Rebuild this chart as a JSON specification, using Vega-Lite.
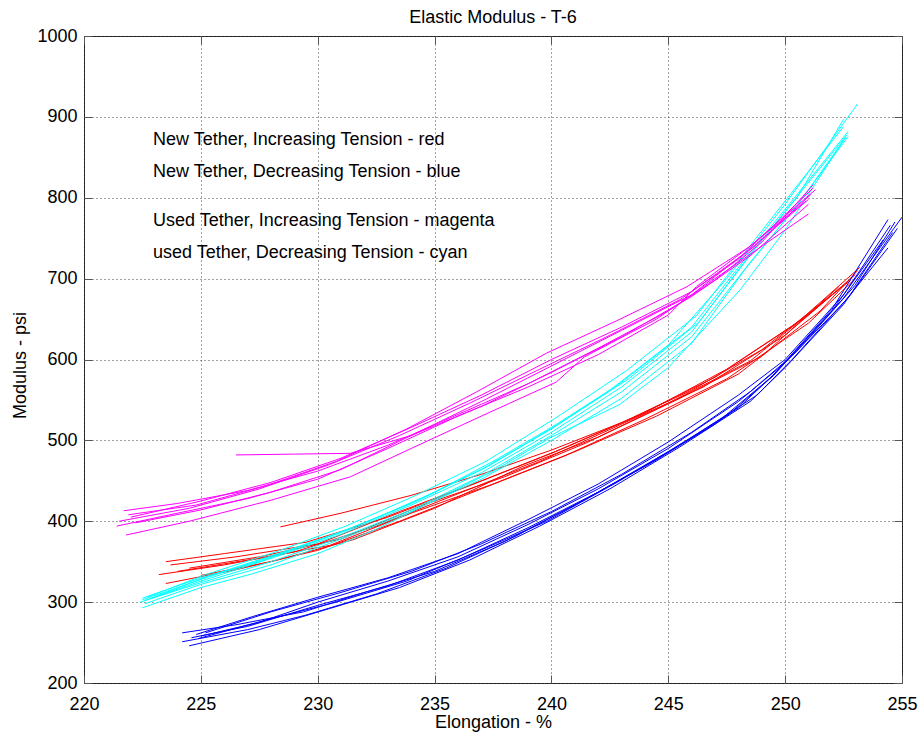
{
  "$schema": "https://vega.github.io/schema/vega-lite/v6.json",
  "width": 818,
  "height": 647,
  "autosize": {"type": "none"},
  "padding": {"left": 84, "top": 36, "right": 19, "bottom": 53},
  "background": "#ffffff",
  "title": {"text": "Elastic Modulus - T-6", "font": "Liberation Sans", "fontSize": 18, "fontWeight": "normal", "color": "#000", "anchor": "middle", "offset": 0},
  "config": {
    "view": {"stroke": "#222", "strokeWidth": 1},
    "axis": {
      "labelFont": "Liberation Sans", "labelFontSize": 18, "labelColor": "#000",
      "titleFont": "Liberation Sans", "titleFontSize": 18, "titleFontWeight": "normal", "titleColor": "#000",
      "grid": true, "gridColor": "#444", "gridDash": [1, 3], "gridOpacity": 1, "gridWidth": 1,
      "domain": false, "tickColor": "#555", "tickSize": -8, "tickWidth": 1,
      "labelOverlap": false, "labelFlush": false, "labelBound": false, "format": "d"
    }
  },
  "layer": [
    {
      "data": {"values": [
        {"series":"R1","group":"new_inc","x":223.5,"y":350},{"series":"R1","group":"new_inc","x":226,"y":360},{"series":"R1","group":"new_inc","x":229.5,"y":374},{"series":"R1","group":"new_inc","x":233,"y":405},{"series":"R1","group":"new_inc","x":236.5,"y":444},{"series":"R1","group":"new_inc","x":240,"y":484},{"series":"R1","group":"new_inc","x":243.5,"y":528},{"series":"R1","group":"new_inc","x":247,"y":578},{"series":"R1","group":"new_inc","x":250.5,"y":645},{"series":"R1","group":"new_inc","x":253.2,"y":714},
        {"series":"R2","group":"new_inc","x":223.7,"y":346},{"series":"R2","group":"new_inc","x":226.5,"y":356},{"series":"R2","group":"new_inc","x":230,"y":372},{"series":"R2","group":"new_inc","x":233.5,"y":412},{"series":"R2","group":"new_inc","x":237,"y":450},{"series":"R2","group":"new_inc","x":240.5,"y":490},{"series":"R2","group":"new_inc","x":244,"y":534},{"series":"R2","group":"new_inc","x":247.5,"y":588},{"series":"R2","group":"new_inc","x":251,"y":655},{"series":"R2","group":"new_inc","x":253,"y":705},
        {"series":"R3","group":"new_inc","x":223.2,"y":334},{"series":"R3","group":"new_inc","x":226,"y":346},{"series":"R3","group":"new_inc","x":229,"y":362},{"series":"R3","group":"new_inc","x":232.5,"y":394},{"series":"R3","group":"new_inc","x":236,"y":434},{"series":"R3","group":"new_inc","x":239.5,"y":474},{"series":"R3","group":"new_inc","x":243,"y":520},{"series":"R3","group":"new_inc","x":246.5,"y":566},{"series":"R3","group":"new_inc","x":250,"y":630},{"series":"R3","group":"new_inc","x":252.5,"y":692},
        {"series":"R4","group":"new_inc","x":223.5,"y":323},{"series":"R4","group":"new_inc","x":226.5,"y":340},{"series":"R4","group":"new_inc","x":230,"y":364},{"series":"R4","group":"new_inc","x":233.5,"y":400},{"series":"R4","group":"new_inc","x":237,"y":440},{"series":"R4","group":"new_inc","x":240.5,"y":480},{"series":"R4","group":"new_inc","x":244,"y":526},{"series":"R4","group":"new_inc","x":247.5,"y":576},{"series":"R4","group":"new_inc","x":251,"y":645},{"series":"R4","group":"new_inc","x":253,"y":700},
        {"series":"R5","group":"new_inc","x":228.4,"y":393},{"series":"R5","group":"new_inc","x":231,"y":410},{"series":"R5","group":"new_inc","x":234,"y":432},{"series":"R5","group":"new_inc","x":237,"y":458},{"series":"R5","group":"new_inc","x":240,"y":488},{"series":"R5","group":"new_inc","x":243,"y":522},{"series":"R5","group":"new_inc","x":246,"y":562},{"series":"R5","group":"new_inc","x":249,"y":612},{"series":"R5","group":"new_inc","x":252,"y":680},
        {"series":"R6","group":"new_inc","x":224.5,"y":342},{"series":"R6","group":"new_inc","x":227.5,"y":356},{"series":"R6","group":"new_inc","x":231,"y":378},{"series":"R6","group":"new_inc","x":234.5,"y":420},{"series":"R6","group":"new_inc","x":238,"y":455},{"series":"R6","group":"new_inc","x":241.5,"y":497},{"series":"R6","group":"new_inc","x":245,"y":546},{"series":"R6","group":"new_inc","x":248.5,"y":598},{"series":"R6","group":"new_inc","x":251.5,"y":668},{"series":"R6","group":"new_inc","x":252.8,"y":698},
        {"series":"R7","group":"new_inc","x":225,"y":333},{"series":"R7","group":"new_inc","x":228,"y":350},{"series":"R7","group":"new_inc","x":231.5,"y":377},{"series":"R7","group":"new_inc","x":235,"y":416},{"series":"R7","group":"new_inc","x":238.7,"y":467},{"series":"R7","group":"new_inc","x":242,"y":504},{"series":"R7","group":"new_inc","x":245.5,"y":552},{"series":"R7","group":"new_inc","x":249,"y":604},{"series":"R7","group":"new_inc","x":252.3,"y":690},
        {"series":"R8","group":"new_inc","x":224,"y":338},{"series":"R8","group":"new_inc","x":227,"y":352},{"series":"R8","group":"new_inc","x":230.5,"y":370},{"series":"R8","group":"new_inc","x":234,"y":410},{"series":"R8","group":"new_inc","x":237.5,"y":446},{"series":"R8","group":"new_inc","x":241,"y":486},{"series":"R8","group":"new_inc","x":244.5,"y":530},{"series":"R8","group":"new_inc","x":248,"y":582},{"series":"R8","group":"new_inc","x":251.5,"y":660},{"series":"R8","group":"new_inc","x":253.1,"y":710},

        {"series":"B1","group":"new_dec","x":224.2,"y":262},{"series":"B1","group":"new_dec","x":226.5,"y":272},{"series":"B1","group":"new_dec","x":229.4,"y":288},{"series":"B1","group":"new_dec","x":232,"y":312},{"series":"B1","group":"new_dec","x":235,"y":338},{"series":"B1","group":"new_dec","x":238,"y":375},{"series":"B1","group":"new_dec","x":241,"y":420},{"series":"B1","group":"new_dec","x":244,"y":468},{"series":"B1","group":"new_dec","x":247,"y":520},{"series":"B1","group":"new_dec","x":249.4,"y":578},{"series":"B1","group":"new_dec","x":252,"y":662},{"series":"B1","group":"new_dec","x":254.4,"y":773},
        {"series":"B2","group":"new_dec","x":224.2,"y":251},{"series":"B2","group":"new_dec","x":227,"y":266},{"series":"B2","group":"new_dec","x":229.5,"y":284},{"series":"B2","group":"new_dec","x":232.5,"y":310},{"series":"B2","group":"new_dec","x":235.5,"y":342},{"series":"B2","group":"new_dec","x":238.5,"y":382},{"series":"B2","group":"new_dec","x":241.5,"y":428},{"series":"B2","group":"new_dec","x":244.5,"y":476},{"series":"B2","group":"new_dec","x":247.5,"y":530},{"series":"B2","group":"new_dec","x":249.5,"y":580},{"series":"B2","group":"new_dec","x":252.5,"y":676},{"series":"B2","group":"new_dec","x":255,"y":776},
        {"series":"B3","group":"new_dec","x":224.5,"y":246},{"series":"B3","group":"new_dec","x":227.5,"y":266},{"series":"B3","group":"new_dec","x":230.5,"y":292},{"series":"B3","group":"new_dec","x":233.5,"y":318},{"series":"B3","group":"new_dec","x":236.5,"y":352},{"series":"B3","group":"new_dec","x":239.5,"y":394},{"series":"B3","group":"new_dec","x":242.5,"y":440},{"series":"B3","group":"new_dec","x":245.5,"y":492},{"series":"B3","group":"new_dec","x":248.5,"y":548},{"series":"B3","group":"new_dec","x":250,"y":590},{"series":"B3","group":"new_dec","x":252.5,"y":668},{"series":"B3","group":"new_dec","x":254.6,"y":757},
        {"series":"B4","group":"new_dec","x":225,"y":258},{"series":"B4","group":"new_dec","x":227.5,"y":275},{"series":"B4","group":"new_dec","x":230,"y":300},{"series":"B4","group":"new_dec","x":233,"y":326},{"series":"B4","group":"new_dec","x":236,"y":356},{"series":"B4","group":"new_dec","x":239,"y":396},{"series":"B4","group":"new_dec","x":242,"y":440},{"series":"B4","group":"new_dec","x":245,"y":490},{"series":"B4","group":"new_dec","x":248,"y":548},{"series":"B4","group":"new_dec","x":250,"y":596},{"series":"B4","group":"new_dec","x":252.5,"y":670},{"series":"B4","group":"new_dec","x":254.4,"y":738},
        {"series":"B5","group":"new_dec","x":224.6,"y":256},{"series":"B5","group":"new_dec","x":227,"y":270},{"series":"B5","group":"new_dec","x":230,"y":296},{"series":"B5","group":"new_dec","x":233,"y":320},{"series":"B5","group":"new_dec","x":236,"y":352},{"series":"B5","group":"new_dec","x":239,"y":392},{"series":"B5","group":"new_dec","x":242,"y":436},{"series":"B5","group":"new_dec","x":245,"y":486},{"series":"B5","group":"new_dec","x":248,"y":540},{"series":"B5","group":"new_dec","x":249.6,"y":584},{"series":"B5","group":"new_dec","x":252,"y":660},{"series":"B5","group":"new_dec","x":254.2,"y":748},
        {"series":"B6","group":"new_dec","x":224.8,"y":260},{"series":"B6","group":"new_dec","x":227.2,"y":282},{"series":"B6","group":"new_dec","x":230,"y":306},{"series":"B6","group":"new_dec","x":233,"y":330},{"series":"B6","group":"new_dec","x":236,"y":360},{"series":"B6","group":"new_dec","x":239,"y":402},{"series":"B6","group":"new_dec","x":242,"y":446},{"series":"B6","group":"new_dec","x":245,"y":498},{"series":"B6","group":"new_dec","x":248,"y":556},{"series":"B6","group":"new_dec","x":250,"y":600},{"series":"B6","group":"new_dec","x":252.5,"y":680},{"series":"B6","group":"new_dec","x":254.5,"y":766},
        {"series":"B7","group":"new_dec","x":225.2,"y":262},{"series":"B7","group":"new_dec","x":228,"y":288},{"series":"B7","group":"new_dec","x":231,"y":312},{"series":"B7","group":"new_dec","x":234,"y":338},{"series":"B7","group":"new_dec","x":237,"y":372},{"series":"B7","group":"new_dec","x":240,"y":412},{"series":"B7","group":"new_dec","x":243,"y":458},{"series":"B7","group":"new_dec","x":246,"y":510},{"series":"B7","group":"new_dec","x":248.5,"y":560},{"series":"B7","group":"new_dec","x":250.5,"y":610},{"series":"B7","group":"new_dec","x":253,"y":692},{"series":"B7","group":"new_dec","x":254.7,"y":770},
        {"series":"B8","group":"new_dec","x":224.9,"y":255},{"series":"B8","group":"new_dec","x":227.8,"y":278},{"series":"B8","group":"new_dec","x":230.8,"y":300},{"series":"B8","group":"new_dec","x":233.8,"y":326},{"series":"B8","group":"new_dec","x":236.8,"y":362},{"series":"B8","group":"new_dec","x":239.8,"y":400},{"series":"B8","group":"new_dec","x":242.8,"y":448},{"series":"B8","group":"new_dec","x":245.8,"y":500},{"series":"B8","group":"new_dec","x":248.8,"y":556},{"series":"B8","group":"new_dec","x":250.3,"y":600},{"series":"B8","group":"new_dec","x":252.8,"y":680},{"series":"B8","group":"new_dec","x":254.8,"y":762},

        {"series":"C1","group":"used_dec","x":222.5,"y":305},{"series":"C1","group":"used_dec","x":225,"y":330},{"series":"C1","group":"used_dec","x":227.5,"y":350},{"series":"C1","group":"used_dec","x":230,"y":376},{"series":"C1","group":"used_dec","x":232.5,"y":404},{"series":"C1","group":"used_dec","x":235,"y":436},{"series":"C1","group":"used_dec","x":237.5,"y":474},{"series":"C1","group":"used_dec","x":240,"y":516},{"series":"C1","group":"used_dec","x":242.5,"y":562},{"series":"C1","group":"used_dec","x":245,"y":618},{"series":"C1","group":"used_dec","x":247.5,"y":700},{"series":"C1","group":"used_dec","x":250,"y":792},{"series":"C1","group":"used_dec","x":253.1,"y":916},
        {"series":"C2","group":"used_dec","x":222.5,"y":293},{"series":"C2","group":"used_dec","x":225,"y":318},{"series":"C2","group":"used_dec","x":227.2,"y":335},{"series":"C2","group":"used_dec","x":230,"y":360},{"series":"C2","group":"used_dec","x":232.5,"y":390},{"series":"C2","group":"used_dec","x":235,"y":426},{"series":"C2","group":"used_dec","x":237.5,"y":462},{"series":"C2","group":"used_dec","x":240,"y":504},{"series":"C2","group":"used_dec","x":242.9,"y":544},{"series":"C2","group":"used_dec","x":245,"y":590},{"series":"C2","group":"used_dec","x":248.07,"y":686},{"series":"C2","group":"used_dec","x":250,"y":760},{"series":"C2","group":"used_dec","x":252.5,"y":871},
        {"series":"C3","group":"used_dec","x":222.6,"y":302},{"series":"C3","group":"used_dec","x":225,"y":326},{"series":"C3","group":"used_dec","x":228,"y":354},{"series":"C3","group":"used_dec","x":231,"y":384},{"series":"C3","group":"used_dec","x":234,"y":420},{"series":"C3","group":"used_dec","x":237,"y":460},{"series":"C3","group":"used_dec","x":240,"y":510},{"series":"C3","group":"used_dec","x":243,"y":566},{"series":"C3","group":"used_dec","x":246,"y":634},{"series":"C3","group":"used_dec","x":248.5,"y":730},{"series":"C3","group":"used_dec","x":250.5,"y":800},{"series":"C3","group":"used_dec","x":252.5,"y":897},
        {"series":"C4","group":"used_dec","x":222.8,"y":304},{"series":"C4","group":"used_dec","x":225.3,"y":332},{"series":"C4","group":"used_dec","x":228.3,"y":360},{"series":"C4","group":"used_dec","x":231.3,"y":390},{"series":"C4","group":"used_dec","x":234.3,"y":426},{"series":"C4","group":"used_dec","x":237.3,"y":468},{"series":"C4","group":"used_dec","x":240.3,"y":520},{"series":"C4","group":"used_dec","x":243.3,"y":576},{"series":"C4","group":"used_dec","x":246.3,"y":646},{"series":"C4","group":"used_dec","x":248.8,"y":740},{"series":"C4","group":"used_dec","x":252.65,"y":878},
        {"series":"C5","group":"used_dec","x":222.4,"y":300},{"series":"C5","group":"used_dec","x":225,"y":324},{"series":"C5","group":"used_dec","x":228,"y":350},{"series":"C5","group":"used_dec","x":231,"y":380},{"series":"C5","group":"used_dec","x":234,"y":414},{"series":"C5","group":"used_dec","x":237,"y":456},{"series":"C5","group":"used_dec","x":240,"y":506},{"series":"C5","group":"used_dec","x":243,"y":560},{"series":"C5","group":"used_dec","x":246,"y":628},{"series":"C5","group":"used_dec","x":248.5,"y":720},{"series":"C5","group":"used_dec","x":250.5,"y":790},{"series":"C5","group":"used_dec","x":252.7,"y":876},
        {"series":"C6","group":"used_dec","x":222.7,"y":306},{"series":"C6","group":"used_dec","x":225.2,"y":334},{"series":"C6","group":"used_dec","x":228.2,"y":362},{"series":"C6","group":"used_dec","x":231.2,"y":394},{"series":"C6","group":"used_dec","x":234.2,"y":432},{"series":"C6","group":"used_dec","x":237.2,"y":474},{"series":"C6","group":"used_dec","x":240.2,"y":528},{"series":"C6","group":"used_dec","x":243.2,"y":586},{"series":"C6","group":"used_dec","x":246.2,"y":654},{"series":"C6","group":"used_dec","x":248.7,"y":748},{"series":"C6","group":"used_dec","x":252.5,"y":888},
        {"series":"C7","group":"used_dec","x":222.6,"y":298},{"series":"C7","group":"used_dec","x":225,"y":322},{"series":"C7","group":"used_dec","x":228,"y":346},{"series":"C7","group":"used_dec","x":231,"y":378},{"series":"C7","group":"used_dec","x":234,"y":412},{"series":"C7","group":"used_dec","x":237,"y":452},{"series":"C7","group":"used_dec","x":240,"y":500},{"series":"C7","group":"used_dec","x":243,"y":552},{"series":"C7","group":"used_dec","x":246,"y":620},{"series":"C7","group":"used_dec","x":248.3,"y":712},{"series":"C7","group":"used_dec","x":250.5,"y":790},{"series":"C7","group":"used_dec","x":252.6,"y":875},
        {"series":"C8","group":"used_dec","x":222.5,"y":303},{"series":"C8","group":"used_dec","x":225,"y":328},{"series":"C8","group":"used_dec","x":228,"y":356},{"series":"C8","group":"used_dec","x":231,"y":386},{"series":"C8","group":"used_dec","x":234,"y":422},{"series":"C8","group":"used_dec","x":237,"y":464},{"series":"C8","group":"used_dec","x":240,"y":514},{"series":"C8","group":"used_dec","x":243,"y":572},{"series":"C8","group":"used_dec","x":246,"y":640},{"series":"C8","group":"used_dec","x":248.6,"y":736},{"series":"C8","group":"used_dec","x":252.7,"y":882},

        {"series":"M1","group":"used_inc","x":221.7,"y":413},{"series":"M1","group":"used_inc","x":224,"y":422},{"series":"M1","group":"used_inc","x":227,"y":438},{"series":"M1","group":"used_inc","x":230,"y":462},{"series":"M1","group":"used_inc","x":233,"y":494},{"series":"M1","group":"used_inc","x":236,"y":532},{"series":"M1","group":"used_inc","x":239,"y":570},{"series":"M1","group":"used_inc","x":242,"y":614},{"series":"M1","group":"used_inc","x":245,"y":660},{"series":"M1","group":"used_inc","x":247,"y":698},{"series":"M1","group":"used_inc","x":249,"y":745},{"series":"M1","group":"used_inc","x":251.2,"y":816},
        {"series":"M2","group":"used_inc","x":221.4,"y":394},{"series":"M2","group":"used_inc","x":224,"y":410},{"series":"M2","group":"used_inc","x":227,"y":428},{"series":"M2","group":"used_inc","x":230,"y":452},{"series":"M2","group":"used_inc","x":233,"y":490},{"series":"M2","group":"used_inc","x":236,"y":530},{"series":"M2","group":"used_inc","x":239,"y":566},{"series":"M2","group":"used_inc","x":242,"y":606},{"series":"M2","group":"used_inc","x":245,"y":655},{"series":"M2","group":"used_inc","x":246.2,"y":690},{"series":"M2","group":"used_inc","x":248.5,"y":740},{"series":"M2","group":"used_inc","x":251.3,"y":810},
        {"series":"M3","group":"used_inc","x":221.8,"y":383},{"series":"M3","group":"used_inc","x":224.5,"y":400},{"series":"M3","group":"used_inc","x":228,"y":426},{"series":"M3","group":"used_inc","x":231.4,"y":455},{"series":"M3","group":"used_inc","x":234,"y":490},{"series":"M3","group":"used_inc","x":237,"y":530},{"series":"M3","group":"used_inc","x":240.2,"y":572},{"series":"M3","group":"used_inc","x":241.4,"y":603},{"series":"M3","group":"used_inc","x":244.5,"y":650},{"series":"M3","group":"used_inc","x":247.5,"y":710},{"series":"M3","group":"used_inc","x":251,"y":780},
        {"series":"M4","group":"used_inc","x":226.5,"y":482},{"series":"M4","group":"used_inc","x":229,"y":483},{"series":"M4","group":"used_inc","x":231.4,"y":484},{"series":"M4","group":"used_inc","x":234,"y":506},{"series":"M4","group":"used_inc","x":237,"y":542},{"series":"M4","group":"used_inc","x":240,"y":584},{"series":"M4","group":"used_inc","x":243,"y":628},{"series":"M4","group":"used_inc","x":246,"y":678},{"series":"M4","group":"used_inc","x":248.5,"y":728},{"series":"M4","group":"used_inc","x":251,"y":792},
        {"series":"M5","group":"used_inc","x":221.5,"y":400},{"series":"M5","group":"used_inc","x":224.5,"y":416},{"series":"M5","group":"used_inc","x":227.5,"y":440},{"series":"M5","group":"used_inc","x":230.5,"y":470},{"series":"M5","group":"used_inc","x":233.5,"y":506},{"series":"M5","group":"used_inc","x":236.5,"y":546},{"series":"M5","group":"used_inc","x":239.5,"y":588},{"series":"M5","group":"used_inc","x":242.5,"y":630},{"series":"M5","group":"used_inc","x":245.5,"y":674},{"series":"M5","group":"used_inc","x":248,"y":724},{"series":"M5","group":"used_inc","x":251,"y":798},
        {"series":"M6","group":"used_inc","x":222,"y":405},{"series":"M6","group":"used_inc","x":225,"y":425},{"series":"M6","group":"used_inc","x":228,"y":448},{"series":"M6","group":"used_inc","x":231,"y":478},{"series":"M6","group":"used_inc","x":234,"y":516},{"series":"M6","group":"used_inc","x":237,"y":556},{"series":"M6","group":"used_inc","x":240,"y":600},{"series":"M6","group":"used_inc","x":243,"y":640},{"series":"M6","group":"used_inc","x":246,"y":684},{"series":"M6","group":"used_inc","x":248.7,"y":740},{"series":"M6","group":"used_inc","x":251.1,"y":804},
        {"series":"M7","group":"used_inc","x":222.2,"y":398},{"series":"M7","group":"used_inc","x":225,"y":414},{"series":"M7","group":"used_inc","x":228,"y":436},{"series":"M7","group":"used_inc","x":231,"y":464},{"series":"M7","group":"used_inc","x":234,"y":506},{"series":"M7","group":"used_inc","x":237,"y":548},{"series":"M7","group":"used_inc","x":240,"y":592},{"series":"M7","group":"used_inc","x":243,"y":636},{"series":"M7","group":"used_inc","x":246,"y":680},{"series":"M7","group":"used_inc","x":248.2,"y":730},{"series":"M7","group":"used_inc","x":251.2,"y":812},
        {"series":"M8","group":"used_inc","x":221.9,"y":408},{"series":"M8","group":"used_inc","x":224.8,"y":420},{"series":"M8","group":"used_inc","x":227.8,"y":444},{"series":"M8","group":"used_inc","x":230.8,"y":474},{"series":"M8","group":"used_inc","x":233.8,"y":514},{"series":"M8","group":"used_inc","x":236.8,"y":560},{"series":"M8","group":"used_inc","x":239.8,"y":608},{"series":"M8","group":"used_inc","x":242.8,"y":648},{"series":"M8","group":"used_inc","x":245.8,"y":690},{"series":"M8","group":"used_inc","x":248.4,"y":738},{"series":"M8","group":"used_inc","x":250.9,"y":796}
      ]},
      "mark": {"type": "line", "strokeWidth": 1, "clip": true},
      "encoding": {
        "x": {"field": "x", "type": "quantitative",
              "scale": {"domain": [220, 255], "nice": false, "zero": false},
              "axis": {"orient": "bottom", "values": [220, 225, 230, 235, 240, 245, 250, 255], "title": "Elongation - %", "labelPadding": 20, "titleBaseline": "alphabetic", "titleY": 44, "titleX": 409}},
        "y": {"field": "y", "type": "quantitative",
              "scale": {"domain": [200, 1000], "nice": false, "zero": false},
              "axis": {"orient": "left", "values": [200, 300, 400, 500, 600, 700, 800, 900, 1000], "title": "Modulus - psi", "labelPadding": 15, "titleBaseline": "middle", "titleX": -64, "titleY": 329}},
        "color": {"field": "group", "type": "nominal",
                  "scale": {"domain": ["new_inc", "new_dec", "used_dec", "used_inc"], "range": ["#ff0000", "#0000ff", "#00ffff", "#ff00ff"]},
                  "legend": null},
        "detail": {"field": "series", "type": "nominal"},
        "order": {"field": "x", "type": "quantitative"}
      }
    },
    {
      "data": {"values": [
        {"label": "New Tether, Increasing Tension - red", "x": 222.95, "y": 871},
        {"label": "New Tether, Decreasing Tension - blue", "x": 222.95, "y": 832},
        {"label": "Used Tether, Increasing Tension - magenta", "x": 222.95, "y": 771},
        {"label": "used Tether, Decreasing Tension - cyan", "x": 222.95, "y": 732}
      ]},
      "mark": {"type": "text", "align": "left", "baseline": "middle", "font": "Liberation Sans", "fontSize": 18, "color": "#000"},
      "encoding": {
        "x": {"field": "x", "type": "quantitative",
              "axis": {"orient": "top", "values": [220, 225, 230, 235, 240, 245, 250, 255], "labels": false, "grid": false, "title": null}},
        "y": {"field": "y", "type": "quantitative",
              "axis": {"orient": "right", "values": [200, 300, 400, 500, 600, 700, 800, 900, 1000], "labels": false, "grid": false, "title": null}},
        "text": {"field": "label", "type": "nominal"}
      }
    }
  ],
  "resolve": {"axis": {"x": "independent", "y": "independent"}}
}
